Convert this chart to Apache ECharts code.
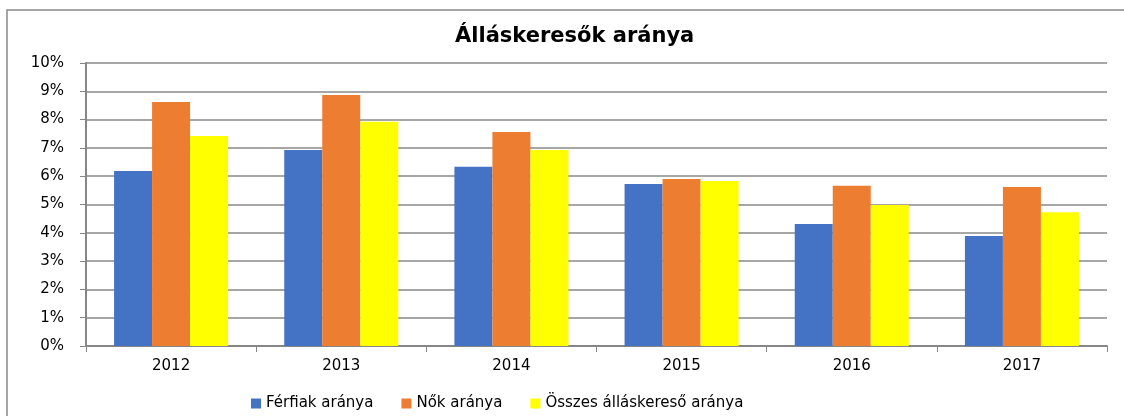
<!DOCTYPE html>
<html>
<head>
<meta charset="utf-8">
<script src="https://cdn.jsdelivr.net/npm/echarts@6/dist/echarts.min.js"></script>
<style>
  html, body { margin: 0; padding: 0; background: #fff; overflow: hidden; }
  #chart { width: 1124px; height: 416px; }
</style>
</head>
<body>
<div id="chart"></div>
<script>
// Years on the x axis
const years = ['2012', '2013', '2014', '2015', '2016', '2017'];

// Shares (%)
const ferfiak = [6.18, 6.93, 6.33, 5.72, 4.31, 3.89];
const nok = [8.62, 8.87, 7.56, 5.90, 5.66, 5.62];
const osszes = [7.42, 7.92, 6.93, 5.83, 4.98, 4.73];

const seriesNames = ['Férfiak aránya', 'Nők aránya', 'Összes álláskereső aránya'];
const colors = ['#4472c4', '#ed7d31', '#ffff00'];

const font = '"DejaVu Sans", Verdana, sans-serif';

const option = {
  animation: false,
  color: colors,
  textStyle: { fontFamily: font },
  title: {
    text: 'Álláskeresők aránya',
    left: 450,
    top: 21,
    textStyle: { fontFamily: font, fontSize: 21, fontWeight: 'bold', color: '#000' }
  },
  legend: {
    data: seriesNames,
    left: 246,
    top: 391,
    itemWidth: 10,
    itemHeight: 10,
    itemGap: 28,
    icon: 'rect',
    textStyle: { fontFamily: font, fontSize: 15, color: '#000' }
  },
  grid: { left: 86, right: 17, top: 63, bottom: 70 },
  xAxis: {
    type: 'category',
    data: years,
    axisLine: { lineStyle: { color: '#868686', width: 2 } },
    axisTick: { show: true, length: 6, lineStyle: { color: '#868686' } },
    axisLabel: { fontFamily: font, fontSize: 15, color: '#000', margin: 13 }
  },
  yAxis: {
    type: 'value',
    min: 0,
    max: 10,
    interval: 1,
    axisLine: { show: true, lineStyle: { color: '#868686', width: 2 } },
    axisTick: { show: true, length: 6, lineStyle: { color: '#868686' } },
    axisLabel: { fontFamily: font, fontSize: 15, color: '#000', margin: 22, formatter: '{value}%' },
    splitLine: { lineStyle: { color: '#888888', width: 1.5 } }
  },
  series: [
    { name: seriesNames[0], type: 'bar', data: ferfiak, barGap: '0%', barCategoryGap: '33%' },
    { name: seriesNames[1], type: 'bar', data: nok, barGap: '0%', barCategoryGap: '33%' },
    { name: seriesNames[2], type: 'bar', data: osszes, barGap: '0%', barCategoryGap: '33%' }
  ],
  // chart-area frame; its right and bottom edges fall outside the canvas
  graphic: [
    {
      type: 'rect',
      z: -1,
      shape: { x: 7, y: 10, width: 1300, height: 600 },
      style: { stroke: '#888888', lineWidth: 1.5, fill: 'transparent' },
      silent: true
    }
  ]
};

const chart = echarts.init(document.getElementById('chart'));
chart.setOption(option);
</script>
</body>
</html>
